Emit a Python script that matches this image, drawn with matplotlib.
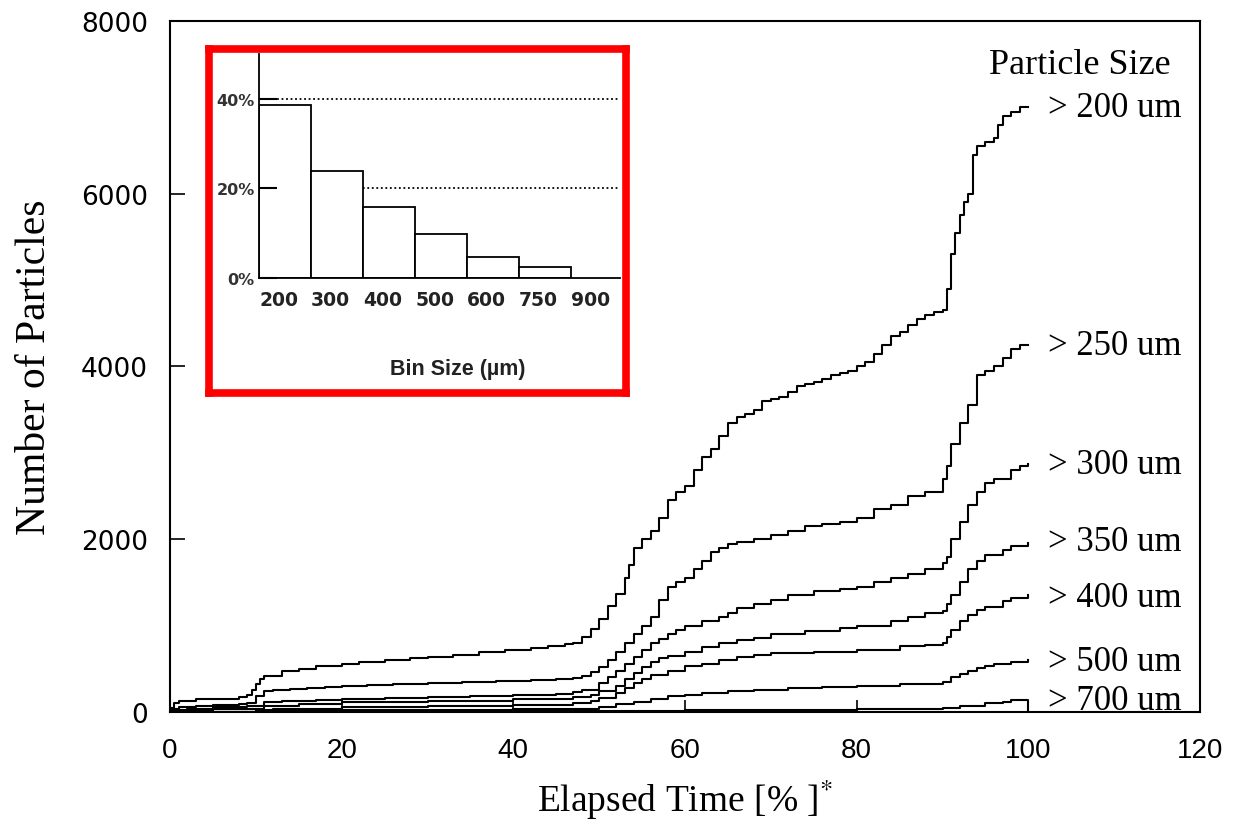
import matplotlib.pyplot as plt

plt.rcParams['mathtext.fontset'] = 'stix'

# 累计颗粒数曲线（经过时间 %）
x_200 = [0, 0.5, 1, 3, 5, 8, 9, 9.5, 10, 10.5, 11, 13, 15, 17, 20, 22, 25, 28, 30, 33, 36, 39, 42, 44, 46, 47,
         48, 49, 50, 51, 52, 53, 53.5, 54, 55, 56, 57, 58, 59, 60, 61, 62, 63, 64, 65, 66, 67, 68, 69, 70,
         71, 72, 73, 74, 75, 76, 77, 78, 79, 80, 81, 82, 83, 84, 85, 86, 87, 88, 89, 90, 90.5, 91, 91.5,
         92, 92.5, 93, 93.5, 94, 95, 96, 96.5, 97, 98, 99, 100]
y_200 = [50, 100, 130, 145, 155, 170, 200, 260, 320, 380, 420, 470, 500, 530, 560, 580, 600, 620, 640, 660, 690,
         720, 740, 760, 790, 800, 870, 960, 1080, 1230, 1370, 1550, 1700, 1900, 2000, 2100, 2250, 2450, 2550,
         2620, 2800, 2950, 3050, 3200, 3350, 3420, 3450, 3500, 3600, 3620, 3650, 3700, 3780, 3800, 3820, 3850,
         3900, 3920, 3950, 4000, 4050, 4150, 4250, 4350, 4400, 4480, 4550, 4600, 4630, 4650, 4900, 5300, 5550,
         5750, 5900, 6000, 6450, 6550, 6600, 6650, 6800, 6900, 6950, 7000, 7000]

x_250 = [0, 1, 3, 5, 8, 9, 10, 11, 12, 14, 16, 18, 20, 23, 26, 30, 34, 38, 42, 45, 47, 48, 49, 50, 51, 52, 53,
         54, 55, 56, 57, 58, 59, 60, 61, 62, 63, 64, 65, 66, 68, 70, 72, 74, 76, 78, 80, 82, 84, 86, 88, 90,
         90.5, 91, 92, 93, 94, 95, 96, 97, 98, 99, 100]
y_250 = [30, 60, 70, 80, 90, 100, 180, 240, 260, 270, 280, 290, 300, 310, 320, 340, 350, 360, 370, 380, 390,
         420, 460, 520, 600, 700, 800, 900, 1000, 1100, 1300, 1450, 1500, 1550, 1650, 1750, 1850, 1900, 1950,
         1970, 2000, 2050, 2100, 2150, 2180, 2200, 2250, 2350, 2400, 2500, 2550, 2700, 2850, 3100, 3350, 3550,
         3900, 3950, 4000, 4100, 4200, 4250, 4250]

x_300 = [0, 2, 5, 9, 11, 13, 17, 20, 25, 30, 35, 40, 45, 47, 48, 50, 51, 52, 53, 54, 55, 56, 57, 58, 59, 60,
         62, 64, 65, 66, 68, 70, 72, 75, 78, 80, 82, 84, 86, 88, 90, 90.5, 91, 92, 93, 94, 95, 96, 98, 99, 100]
y_300 = [20, 40, 60, 70, 110, 130, 140, 150, 160, 170, 180, 200, 210, 230, 260, 330, 400, 480, 560, 640, 720,
         800, 850, 900, 950, 1000, 1050, 1100, 1150, 1200, 1250, 1300, 1350, 1400, 1420, 1450, 1500, 1550,
         1600, 1650, 1720, 1800, 2000, 2200, 2400, 2550, 2650, 2700, 2800, 2850, 2870]

x_350 = [0, 5, 9, 11, 15, 20, 30, 40, 47, 49, 50, 52, 53, 54, 55, 56, 57, 58, 60, 62, 64, 66, 68, 70, 74, 78,
         80, 84, 86, 88, 90, 90.5, 91, 92, 93, 94, 95, 97, 98, 100]
y_350 = [10, 30, 40, 70, 90, 110, 130, 150, 170, 200, 240, 300, 380, 450, 520, 580, 620, 650, 700, 750, 800,
         830, 860, 900, 940, 970, 1000, 1050, 1100, 1150, 1170, 1250, 1350, 1500, 1650, 1750, 1820, 1880,
         1920, 1960]

x_400 = [0, 10, 12, 20, 30, 40, 47, 49, 50, 52, 53, 54, 55, 56, 58, 60, 62, 64, 66, 68, 70, 75, 80, 85, 88, 90,
         90.5, 91, 92, 93, 94, 95, 97, 98, 100]
y_400 = [5, 20, 40, 60, 70, 80, 100, 130, 160, 220, 280, 330, 380, 430, 480, 530, 560, 600, 640, 660, 680, 700,
         720, 760, 780, 800, 870, 950, 1050, 1120, 1180, 1220, 1280, 1320, 1350]

x_500 = [0, 10, 12, 20, 30, 40, 47, 50, 52, 54, 56, 58, 60, 62, 65, 68, 72, 76, 80, 85, 90, 91, 92, 93, 94, 95,
         96, 98, 100]
y_500 = [0, 5, 15, 20, 25, 30, 35, 60, 90, 120, 150, 180, 200, 220, 240, 260, 280, 290, 300, 320, 350, 400,
         440, 480, 510, 530, 560, 580, 600]

x_700 = [0, 20, 40, 50, 57, 60, 70, 80, 90, 92, 95, 97, 98, 100, 100]
y_700 = [0, 5, 8, 10, 15, 20, 25, 30, 50, 70, 100, 110, 140, 140, 0]

curves = [(x_200, y_200), (x_250, y_250), (x_300, y_300), (x_350, y_350),
          (x_400, y_400), (x_500, y_500), (x_700, y_700)]
size_labels = ['> 200 um', '> 250 um', '> 300 um', '> 350 um', '> 400 um', '> 500 um', '> 700 um']
label_y = [7000, 4240, 2870, 1970, 1330, 590, 130]

# 插图：颗粒尺寸分布直方图
bin_labels = ['200', '300', '400', '500', '600', '750', '900']
bin_pct = [38.7, 23.9, 15.8, 9.9, 4.7, 2.5]

fig = plt.figure(figsize=(12.33, 8.28), dpi=100)
ax = fig.add_axes([170 / 1233, 1 - 713 / 828, 1030 / 1233, 691 / 828])

for xs, ys in curves:
    ax.plot(xs, ys, color='black', lw=1.5, drawstyle='steps-post')

for txt, yy in zip(size_labels, label_y):
    t = ax.text(102.3, yy, txt, ha='left', va='center', family='Liberation Serif', fontsize=25, zorder=2.2)
    if txt == '> 700 um':
        t.set_bbox(dict(facecolor='white', edgecolor='none', pad=1))
ax.text(106, 7500, 'Particle Size', ha='center', va='center', family='Liberation Serif', fontsize=26)

ax.set_xlim(0, 120)
ax.set_ylim(0, 8000)
ax.set_xticks([0, 20, 40, 60, 80, 100, 120])
ax.set_yticks([0, 2000, 4000, 6000, 8000])
ax.tick_params(axis='y', direction='in', length=11, width=1.2, pad=16, labelsize=19)
ax.tick_params(axis='x', direction='in', length=9, width=1.2, pad=18, labelsize=20)
for lab in ax.get_xticklabels():
    lab.set_family('Liberation Sans')
for lab in ax.get_yticklabels():
    lab.set_family('DejaVu Sans')
for sp in ax.spines.values():
    sp.set_linewidth(1.5)

ax.set_ylabel('Number of Particles', family='Liberation Serif', fontsize=30)
ax.yaxis.set_label_coords(-0.113, 0.5)
ax.set_xlabel('Elapsed Time [% ]$^{*}$', family='Liberation Serif', fontsize=27)
ax.xaxis.set_label_coords(0.5, -0.093)

# 红框
frame = fig.add_axes([209 / 1233, 1 - 394 / 828, 417 / 1233, 344 / 828])
frame.set_xticks([])
frame.set_yticks([])
for sp in frame.spines.values():
    sp.set_color('#ff0000')
    sp.set_linewidth(5.5)

hx = fig.add_axes([259 / 1233, 1 - 279 / 828, 361 / 1233, 224 / 828])
hx.patch.set_alpha(0)
hx.bar(range(len(bin_pct)), bin_pct, width=1, align='edge', facecolor='white', edgecolor='black', lw=1.3)
hx.axhline(40, color='black', ls=(0, (1, 1.5)), lw=1.3, zorder=0)
hx.axhline(20, color='black', ls=(0, (1, 1.5)), lw=1.3, zorder=0)
hx.set_xlim(0, 6.95)
hx.set_ylim(0, 50)
hx.spines['top'].set_visible(False)
hx.spines['right'].set_visible(False)
hx.spines['left'].set_linewidth(1.3)
hx.spines['bottom'].set_linewidth(1.3)
hx.set_yticks([0, 20, 40])
hx.set_yticklabels(['0%', '20%', '40%'], family='DejaVu Sans', fontweight='bold', fontsize=11.5, color='#333333')
hx.set_xticks([i + 0.38 for i in range(len(bin_labels))])
hx.set_xticklabels(bin_labels, family='DejaVu Sans', fontweight='bold', fontsize=13.5, color='#222222')
hx.tick_params(axis='y', direction='in', length=13, width=1.5, pad=3)
hx.tick_params(axis='x', length=0, pad=9)
fig.text(458 / 1233, 1 - 370 / 828, 'Bin Size (µm)', ha='center', va='center',
         family='Liberation Sans', fontweight='bold', fontsize=15.5, color='#222222')

fig.savefig('out.png', dpi=100)
